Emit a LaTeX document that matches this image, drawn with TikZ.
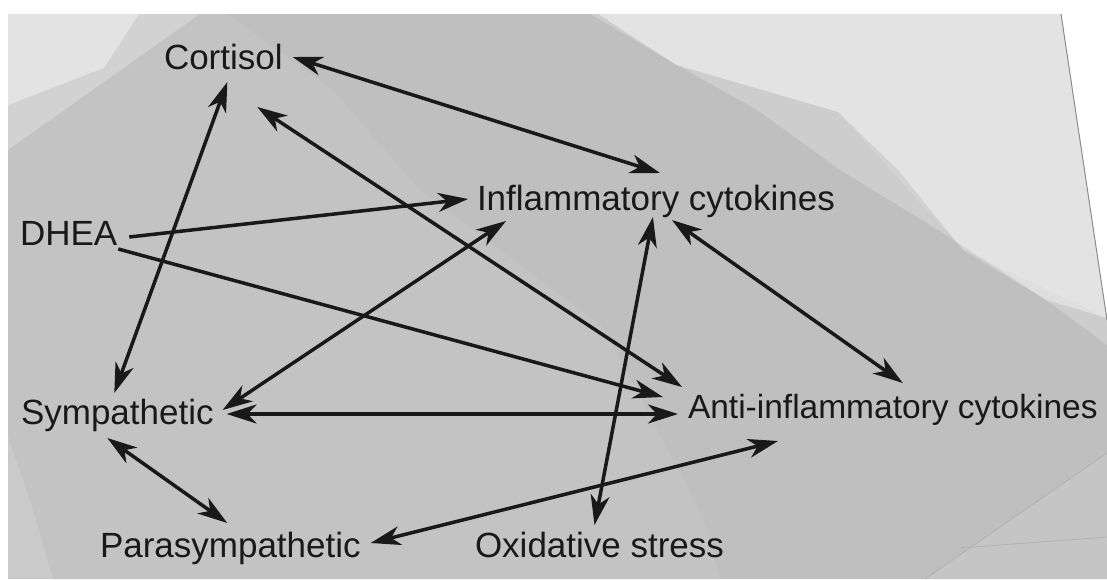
\documentclass[tikz,border=0pt]{standalone}
\usepackage{fontspec}
\setmainfont{Liberation Sans}
\usetikzlibrary{arrows.meta}

\tikzset{
  >={Stealth[length=30pt,width=19pt,inset=9pt]},
  factor/.style={anchor=base west,inner sep=0pt,outer sep=0pt,text=black!90,
    font=\fontsize{35}{42}\selectfont},
  link/.style={line width=3.5pt,draw=black!90,<->},
  push/.style={line width=3.5pt,draw=black!90,->},
  sheet/.style={fill=black,draw=none},
}

\begin{document}
\begin{tikzpicture}[x=1pt,y=-1pt]
  \useasboundingbox (0,0) rectangle (1107,579);
  \fill[white] (0,0) rectangle (1107,579);

  % background sheets
  \fill[black!11] (8,14) -- (1061,14) -- (1107,320) -- (1107,579) -- (8,579) -- cycle;
  \draw[black!45,line width=1pt] (1061,14) -- (1107,320);
  \fill[sheet,fill opacity=0.07]
    (8,105) -- (104,68) -- (139,14) -- (598,14) -- (676,65) -- (838,112) --
    (898,170) -- (963,250) -- (1046,300) -- (1107,318) -- (1107,579) -- (8,579) -- cycle;
  \fill[sheet,fill opacity=0.07]
    (8,150) -- (200,14) -- (590,14) -- (677,65) -- (757,110) -- (840,170) --
    (938,230) -- (1046,300) -- (1107,345) -- (1107,579) -- (8,579) -- cycle;
  \fill[sheet,fill opacity=0.02]
    (227,14) -- (333,90) -- (420,190) -- (603,327) -- (703,517) -- (720,579) --
    (1107,579) -- (1107,318) -- (963,250) -- (838,112) -- (676,65) -- (598,14) -- cycle;
  \fill[white,fill opacity=0.12] (8,437) -- (30,500) -- (53,579) -- (8,579) -- cycle;
  \fill[white,fill opacity=0.10] (925,579) -- (1107,453) -- (1107,579) -- cycle;
  \draw[black!30,line width=0.8pt] (925,579) -- (1107,453);
  \draw[black!30,line width=0.8pt] (960,548) -- (1107,537);

  % factors
  \node[factor] (cort) at (164,69) {Cortisol};
  \node[factor] (dhea) at (20,245) {DHEA};
  \node[factor] (infl) at (477,210) {Inflammatory cytokines};
  \node[factor] (symp) at (21,424) {Sympathetic};
  \node[factor,font=\fontsize{33.5}{40}\selectfont] (anti) at (688,418) {Anti-inflammatory cytokines};
  \node[factor] (para) at (100,557) {Parasympathetic};
  \node[factor] (oxid) at (475,557) {Oxidative stress};

  % links
  \draw[link] ([xshift=10pt,yshift=12pt]cort.base east) -- ([xshift=4pt,yshift=37pt]infl.base);
  \draw[link] ([xshift=4pt,yshift=-13pt]cort.base) -- ([xshift=-3pt,yshift=31pt]symp.base);
  \draw[link] ([xshift=34pt,yshift=-38pt]cort.base) -- ([xshift=-6pt,yshift=31pt]anti.base west);
  \draw[push] ([xshift=12pt,yshift=8pt]dhea.base east) -- ([xshift=-9pt,yshift=11pt]infl.base west);
  \draw[push] ([xshift=1pt,yshift=-4pt]dhea.base east) -- ([xshift=-25pt,yshift=21pt]anti.base west);
  \draw[link] ([xshift=9pt,yshift=14pt]symp.base east) -- ([xshift=29pt,yshift=-11pt]infl.base west);
  \draw[link] ([xshift=13pt,yshift=10pt]symp.base east) -- ([xshift=-10pt,yshift=4pt]anti.base west);
  \draw[link] ([xshift=-10pt,yshift=-14pt]symp.base) -- ([xshift=-3pt,yshift=34pt]para.base);
  \draw[link] ([xshift=10pt,yshift=14pt]para.base east) -- ([xshift=90pt,yshift=-23pt]anti.base west);
  \draw[link] ([xshift=-5pt,yshift=32pt]oxid.base) -- ([xshift=-3pt,yshift=-7pt]infl.base);
  \draw[link] ([xshift=16pt,yshift=-10pt]infl.base) -- ([xshift=10pt,yshift=35pt]anti.base);

\end{tikzpicture}
\end{document}
